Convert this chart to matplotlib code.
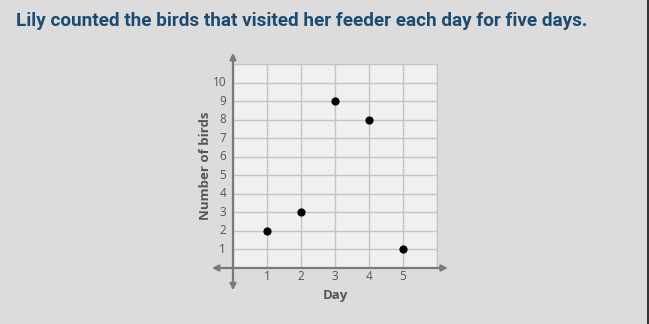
import matplotlib.pyplot as plt

# data
days = [1, 2, 3, 4, 5]
birds = [2, 3, 9, 8, 1]
x_ticks = [1, 2, 3, 4, 5]
y_ticks = list(range(1, 11))
title = "Lily counted the birds that visited her feeder each day for five days."

W, H = 649, 324
fig = plt.figure(figsize=(W / 100, H / 100), dpi=100)
fig.patch.set_facecolor('#dcdcdc')

# grid area: x 233..437 px, y 64..268 px
ax = fig.add_axes([233 / W, (H - 268) / H, 204 / W, 204 / H])
ax.set_facecolor('#f0f0f0')
ax.set_xlim(0, 6)
ax.set_ylim(0, 11)
ax.set_xticks(range(0, 7))
ax.set_yticks(range(0, 12))
ax.grid(True, color='#c4c4c4', linewidth=1)
ax.tick_params(length=0, labelleft=False, labelbottom=False)
for s in ax.spines.values():
    s.set_visible(False)
ax.spines['top'].set_visible(True)
ax.spines['right'].set_visible(True)
ax.spines['top'].set_color('#c4c4c4')
ax.spines['right'].set_color('#c4c4c4')

axis_col = '#7a7a7a'
arrow = dict(arrowstyle='<|-|>', color=axis_col, lw=1.6, mutation_scale=9,
             shrinkA=0, shrinkB=0)
ax.annotate('', xy=(-0.62, 0), xytext=(6.32, 0), arrowprops=arrow,
            annotation_clip=False)
ax.annotate('', xy=(0, -1.2), xytext=(0, 11.6), arrowprops=arrow,
            annotation_clip=False)

ax.scatter(days, birds, s=24, color='black', zorder=5, clip_on=False)

lab_col = '#555555'
for t in x_ticks:
    ax.text(t, -0.45, str(t), ha='center', va='center', fontsize=8.5,
            color=lab_col, family='Open Sans')
for t in y_ticks:
    ax.text(-0.2, t, str(t), ha='right', va='center', fontsize=8.5,
            color=lab_col, family='Open Sans')

ax.text(3, -1.5, 'Day', ha='center', va='center', fontsize=9.5,
        fontweight='bold', color=lab_col, family='Open Sans')
ax.text(-0.8, 5.5, 'Number of birds', ha='center', va='center',
        fontsize=9.5, fontweight='bold', color=lab_col, rotation=90,
        family='Open Sans')

fig.text(16 / W, 1 - 21 / H, title, ha='left', va='center', fontsize=13.6,
         fontweight='bold', color='#1b4b73', family='Roboto')

# dark right edge of the panel
fig.add_artist(plt.Line2D([647.5 / W, 647.5 / W], [0, 1], color='#333333',
                          lw=1.5, transform=fig.transFigure))

fig.savefig('out.png', dpi=100, facecolor=fig.get_facecolor())
